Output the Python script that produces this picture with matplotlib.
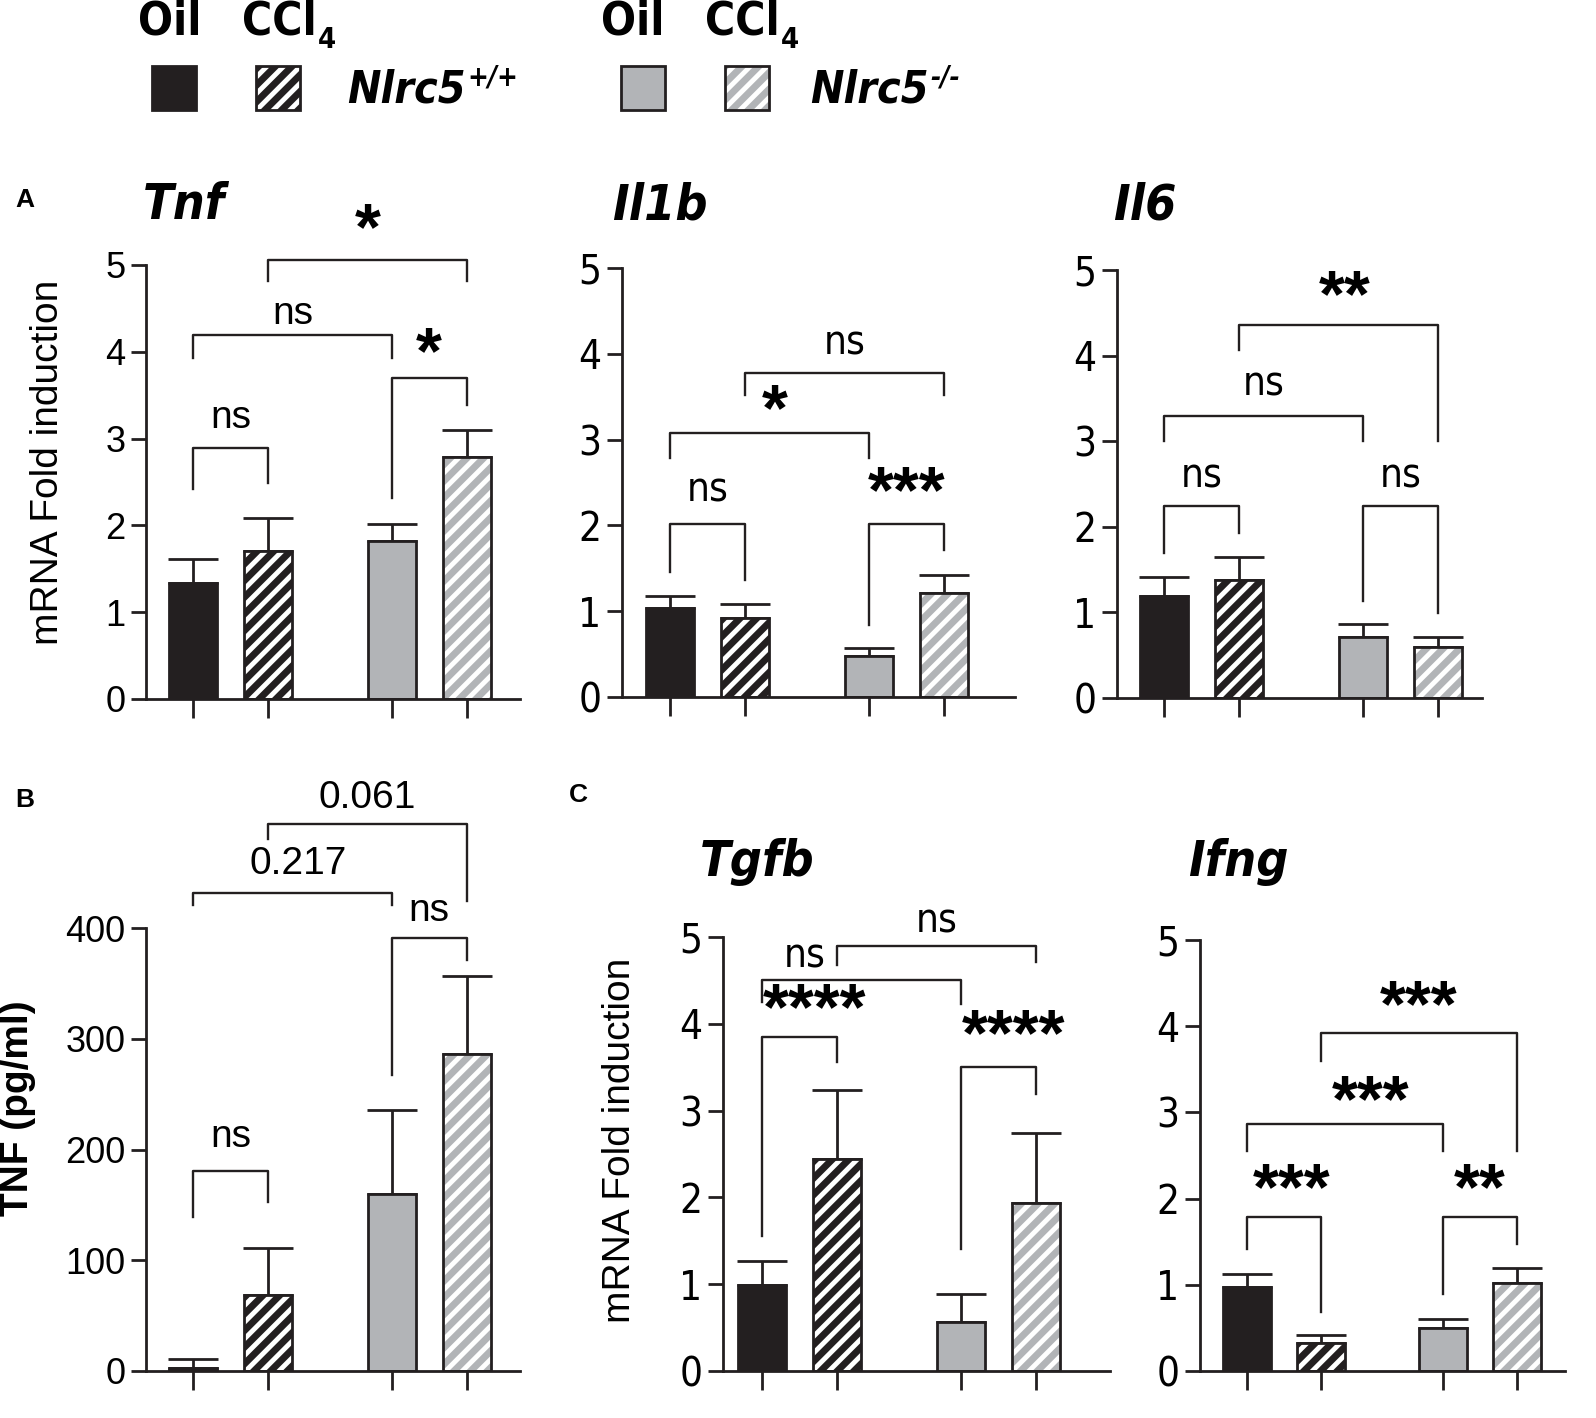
import matplotlib
matplotlib.use("Agg")
import matplotlib.pyplot as plt
from matplotlib.patches import Rectangle

plt.rcParams['font.family'] = ['Liberation Sans', 'DejaVu Sans']
plt.rcParams['hatch.linewidth'] = 3.5

W, H = 1596, 1418
BLACK = '#231f20'
GRAY = '#b2b4b7'
REG = dict(family=['Liberation Sans', 'DejaVu Sans'])
NAR = dict(family=['DejaVu Sans'], fontstretch='condensed')

# ---- data ----
groups = ['Nlrc5+/+ Oil', 'Nlrc5+/+ CCl4', 'Nlrc5-/- Oil', 'Nlrc5-/- CCl4']
xpos = [0, 1, 2.65, 3.65]

tnf_mean = [1.34, 1.71, 1.82, 2.79]
tnf_sem = [0.27, 0.38, 0.20, 0.31]
il1b_mean = [1.04, 0.92, 0.48, 1.21]
il1b_sem = [0.14, 0.16, 0.09, 0.21]
il6_mean = [1.19, 1.38, 0.71, 0.60]
il6_sem = [0.22, 0.27, 0.15, 0.11]
tnf_prot_mean = [3, 69, 160, 286]
tnf_prot_sem = [8, 42, 76, 71]
tgfb_mean = [0.99, 2.44, 0.57, 1.93]
tgfb_sem = [0.28, 0.80, 0.32, 0.81]
ifng_mean = [0.98, 0.33, 0.50, 1.02]
ifng_sem = [0.14, 0.09, 0.10, 0.17]

# brackets: (bar i, bar j, top, left leg end, right leg end, label, label y)
tnf_br = [(0, 1, 2.89, 2.42, 2.49, 'ns', 3.24),
          (0, 2, 4.19, 3.93, 3.93, 'ns', 4.43),
          (2, 3, 3.70, 2.32, 3.39, '*', 3.95),
          (1, 3, 5.06, 4.81, 4.81, '*', 5.38)]
il1b_br = [(0, 1, 2.02, 1.46, 1.36, 'ns', 2.41),
           (2, 3, 2.02, 0.84, 1.71, '***', 2.35),
           (0, 2, 3.08, 2.78, 2.78, '*', 3.31),
           (1, 3, 3.78, 3.52, 3.52, 'ns', 4.12)]
il6_br = [(0, 1, 2.24, 1.69, 1.93, 'ns', 2.59),
          (2, 3, 2.24, 1.13, 0.99, 'ns', 2.59),
          (0, 2, 3.30, 3.00, 3.00, 'ns', 3.66),
          (1, 3, 4.36, 4.07, 3.00, '**', 4.66)]
tnf_prot_br = [(0, 1, 181, 139, 153, 'ns', 211),
               (2, 3, 391, 267, 371, 'ns', 415),
               (0, 2, 432, 421, 421, '0.217', 458),
               (1, 3, 494, 480, 424, '0.061', 517)]
tgfb_br = [(0, 1, 3.85, 1.55, 3.56, '****', 4.14),
           (2, 3, 3.50, 1.40, 3.19, '****', 3.83),
           (0, 2, 4.51, 4.25, 4.23, 'ns', 4.77),
           (1, 3, 4.90, 4.68, 4.71, 'ns', 5.18)]
ifng_br = [(0, 1, 1.79, 1.41, 0.69, '***', 2.07),
           (2, 3, 1.79, 0.89, 1.47, '**', 2.08),
           (0, 2, 2.86, 2.55, 2.55, '***', 3.10),
           (1, 3, 3.92, 3.60, 2.55, '***', 4.20)]

fills = [BLACK, BLACK, GRAY, GRAY]
hatched = [False, True, False, True]

fig = plt.figure(figsize=(W / 100, H / 100), dpi=100)


def panel(spine, first, right, zero, top, ymax, unit=75):
    ax = fig.add_axes([spine / W, 1 - zero / H, (right - spine) / W, (zero - top) / H])
    ax.set_xlim((spine - first) / unit, (right - first) / unit)
    ax.set_ylim(0, ymax)
    return ax


def draw(ax, mean, sem, brackets, yticks, narrow, label_dx=None):
    for i in range(4):
        if hatched[i]:
            ax.bar(xpos[i], mean[i], 0.64, color=fills[i], edgecolor='white',
                   hatch='//', linewidth=0, zorder=2)
            ax.bar(xpos[i], mean[i], 0.64, fill=False, edgecolor=BLACK,
                   linewidth=2, zorder=3)
        else:
            ax.bar(xpos[i], mean[i], 0.64, color=fills[i], edgecolor=BLACK,
                   linewidth=2, zorder=2)
    ax.errorbar(xpos, mean, yerr=[[0] * 4, sem], fmt='none', ecolor=BLACK,
                elinewidth=2, capsize=18, capthick=2, zorder=1)
    fnt = NAR if narrow else REG
    for k, (i, j, t, lb, rb, lab, ly) in enumerate(brackets):
        ax.plot([xpos[i], xpos[i], xpos[j], xpos[j]], [lb, t, t, rb],
                color=BLACK, lw=1.7, clip_on=False)
        tx = (xpos[i] + xpos[j]) / 2
        if label_dx is not None and k in label_dx:
            tx += label_dx[k]
        if '*' in lab:
            ax.text(tx, ly, lab, ha='center', va='center', fontsize=48,
                    fontweight='bold', clip_on=False, **REG)
        elif narrow:
            ax.text(tx, ly, lab, ha='center', va='center', fontsize=29,
                    clip_on=False, **fnt)
        else:
            ax.text(tx, ly, lab, ha='center', va='center', fontsize=28,
                    clip_on=False, **fnt)
    for s in ['top', 'right']:
        ax.spines[s].set_visible(False)
    for s in ['left', 'bottom']:
        ax.spines[s].set_linewidth(2)
        ax.spines[s].set_color(BLACK)
    ax.spines['left'].set_bounds(yticks[0], yticks[-1])
    ax.set_yticks(yticks)
    ax.set_xticks(xpos)
    ax.set_xticklabels([])
    ax.tick_params(axis='y', length=11, width=2, color=BLACK,
                   labelsize=29 if narrow else 26, pad=4)
    ax.tick_params(axis='x', length=14, width=2, color=BLACK)
    for lbl in ax.get_yticklabels():
        lbl.set_family(fnt['family'])
        if narrow:
            lbl.set_fontstretch('condensed')


ax = panel(146, 193, 520, 699, 265, 5)
draw(ax, tnf_mean, tnf_sem, tnf_br, [0, 1, 2, 3, 4, 5], False)

ax = panel(622, 670, 1015, 697, 268, 5)
draw(ax, il1b_mean, il1b_sem, il1b_br, [0, 1, 2, 3, 4, 5], True, label_dx={2: 0.07})

ax = panel(1117, 1164, 1482, 698, 270, 5)
draw(ax, il6_mean, il6_sem, il6_br, [0, 1, 2, 3, 4, 5], True, label_dx={3: 0.08})

ax = panel(146, 193, 520, 1371, 928, 400)
draw(ax, tnf_prot_mean, tnf_prot_sem, tnf_prot_br, [0, 100, 200, 300, 400], False,
     label_dx={2: 0.08})

ax = panel(723, 762, 1110, 1371, 937, 5)
draw(ax, tgfb_mean, tgfb_sem, tgfb_br, [0, 1, 2, 3, 4, 5], True,
     label_dx={0: 0.2, 1: 0.2, 2: -0.75})

ax = panel(1200, 1247, 1565, 1371, 940, 5, unit=74)
draw(ax, ifng_mean, ifng_sem, ifng_br, [0, 1, 2, 3, 4, 5], True,
     label_dx={0: 0.1, 2: 0.34})


def ft(x, y, s, **kw):
    fig.text(x / W, 1 - y / H, s, **kw)


# titles and axis labels
for x, y, s in [(184, 205, 'Tnf'), (660, 205, 'Il1b'), (1145, 205, 'Il6'),
                (757, 862, 'Tgfb'), (1238, 862, 'Ifng')]:
    ft(x, y, s, ha='center', va='center', fontsize=36, fontweight='bold',
       style='italic', **NAR)
ft(48, 462, 'mRNA Fold induction', rotation=90, ha='center', va='center', fontsize=28)
ft(620, 1140, 'mRNA Fold induction', rotation=90, ha='center', va='center', fontsize=28)
ft(18, 1108, 'TNF (pg/ml)', rotation=90, ha='center', va='center', fontsize=28,
   fontweight='bold')
ft(25, 200, 'A', ha='center', va='center', fontsize=19, fontweight='bold')
ft(25, 800, 'B', ha='center', va='center', fontsize=19, fontweight='bold')
ft(578, 795, 'C', ha='center', va='center', fontsize=19, fontweight='bold')

# legend
for ox, sup in [(0, '+/+'), (463, '-/-')]:
    ft(170 + ox, 22, 'Oil', ha='center', va='center', fontsize=33,
       fontweight='bold', **NAR)
    ft(317 + ox, 22, 'CCl', ha='right', va='center', fontsize=33,
       fontweight='bold', **NAR)
    ft(318 + ox, 40, '4', ha='left', va='center', fontsize=21,
       fontweight='bold', **NAR)
    ft(466 + ox, 90, 'Nlrc5', ha='right', va='center', fontsize=32,
       fontweight='bold', style='italic', **NAR)
    ft(467 + ox, 78, sup, ha='left', va='center', fontsize=20,
       fontweight='bold', style='italic', **NAR)

for x0, fc, hat in [(152, BLACK, False), (256, BLACK, True),
                    (621, GRAY, False), (725, GRAY, True)]:
    if hat:
        fig.patches.append(Rectangle((x0 / W, 1 - 110 / H), 44 / W, 44 / H,
                                     transform=fig.transFigure, facecolor=fc,
                                     edgecolor='white', hatch='//', linewidth=0))
    fig.patches.append(Rectangle((x0 / W, 1 - 110 / H), 44 / W, 44 / H,
                                 transform=fig.transFigure,
                                 facecolor='none' if hat else fc,
                                 edgecolor=BLACK, linewidth=2))

fig.savefig('out.png', dpi=100)
